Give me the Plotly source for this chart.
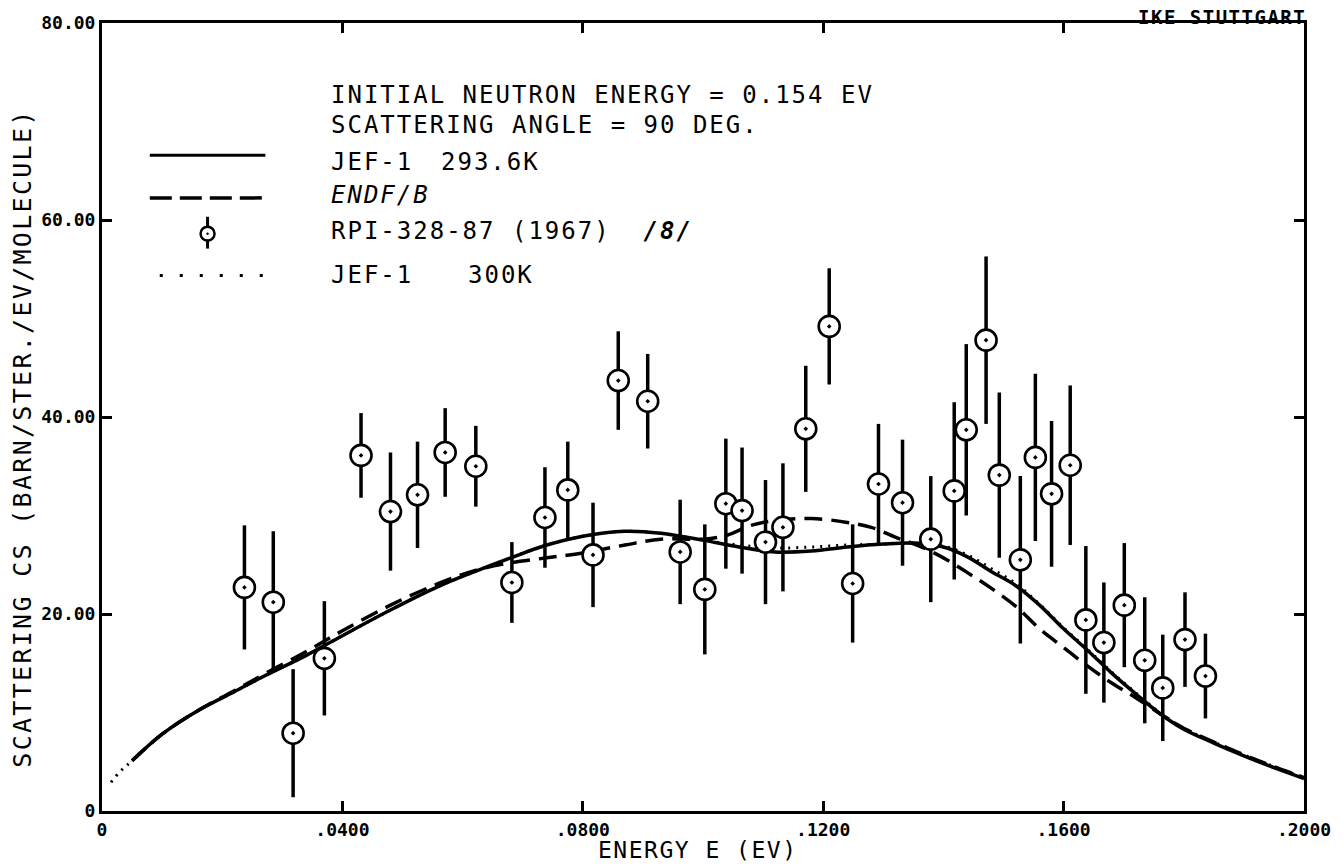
import plotly.graph_objects as go

# Measured double-differential scattering cross section (RPI-328-87, 1967)
E_exp = [0.0237, 0.0285, 0.0318, 0.0370, 0.0431, 0.0480, 0.0525, 0.0571, 0.0622,
         0.0682, 0.0737, 0.0775, 0.0817, 0.0859, 0.0908, 0.0962, 0.1003, 0.1038,
         0.1065, 0.1104, 0.1133, 0.1171, 0.1210, 0.1249, 0.1292, 0.1332, 0.1379,
         0.1418, 0.1438, 0.1471, 0.1493, 0.1528, 0.1553, 0.1580, 0.1611, 0.1637,
         0.1667, 0.1701, 0.1735, 0.1765, 0.1802, 0.1836]
cs_exp = [22.7, 21.2, 7.9, 15.5, 36.1, 30.4, 32.1, 36.4, 35.0,
          23.2, 29.8, 32.6, 26.0, 43.7, 41.6, 26.3, 22.5, 31.2,
          30.5, 27.3, 28.8, 38.8, 49.2, 23.1, 33.2, 31.3, 27.6,
          32.5, 38.7, 47.8, 34.1, 25.5, 35.9, 32.2, 35.1, 19.4,
          17.1, 20.9, 15.3, 12.5, 17.4, 13.7]
cs_err = [6.3, 7.2, 6.5, 5.8, 4.3, 6.0, 5.4, 4.5, 4.1,
          4.1, 5.1, 4.9, 5.3, 5.0, 4.8, 5.3, 6.6, 6.6,
          6.4, 6.3, 6.5, 6.4, 5.9, 6.0, 6.1, 6.4, 6.4,
          9.0, 8.7, 8.5, 8.4, 8.5, 8.5, 7.4, 8.1, 7.5,
          6.1, 6.3, 6.4, 5.4, 4.8, 4.3]

# JEF-1 evaluation at 293.6 K
E_jef = [0.005, 0.010, 0.016, 0.022, 0.027, 0.034, 0.040, 0.048, 0.056, 0.062,
         0.068, 0.074, 0.080, 0.087, 0.093, 0.100, 0.106, 0.112, 0.118, 0.124,
         0.130, 0.135, 0.140, 0.144, 0.148, 0.152, 0.156, 0.160, 0.164, 0.168,
         0.172, 0.176, 0.180, 0.185, 0.190, 0.195, 0.200]
cs_jef = [5.1, 7.8, 10.2, 12.1, 13.7, 15.8, 17.8, 20.4, 22.8, 24.3,
          25.7, 27.0, 27.9, 28.4, 28.2, 27.5, 26.8, 26.3, 26.4, 26.8,
          27.1, 27.2, 26.8, 25.8, 24.3, 22.9, 20.9, 18.5, 16.3, 14.0,
          11.9, 9.9, 8.3, 6.9, 5.6, 4.4, 3.3]

# ENDF/B evaluation
E_endf = [0.005, 0.010, 0.016, 0.022, 0.027, 0.034, 0.040, 0.048, 0.056, 0.062,
          0.068, 0.074, 0.080, 0.087, 0.093, 0.100, 0.104, 0.108, 0.112, 0.118,
          0.124, 0.128, 0.132, 0.136, 0.140, 0.144, 0.148, 0.152, 0.156, 0.160,
          0.164, 0.168, 0.172, 0.176, 0.180, 0.185, 0.190, 0.195, 0.200]
cs_endf = [5.1, 7.8, 10.2, 12.2, 13.9, 16.2, 18.3, 20.9, 23.1, 24.4,
           25.2, 25.7, 26.2, 27.0, 27.6, 27.6, 28.0, 29.0, 29.5, 29.7,
           29.3, 28.8, 27.8, 26.9, 25.7, 24.2, 22.6, 20.8, 18.5, 16.6,
           14.7, 13.0, 11.5, 9.9, 8.4, 7.0, 5.7, 4.5, 3.4]

# JEF-1 evaluation at 300 K
E_jef300 = [0.0015, 0.003, 0.005, 0.010, 0.016, 0.022, 0.027, 0.034, 0.040, 0.048,
            0.056, 0.062, 0.068, 0.074, 0.080, 0.087, 0.093, 0.100, 0.106, 0.112,
            0.118, 0.124, 0.130, 0.135, 0.140, 0.144, 0.148, 0.152, 0.156, 0.160,
            0.164, 0.168, 0.172, 0.176, 0.180, 0.185, 0.190, 0.195, 0.200]
cs_jef300 = [2.9, 4.0, 5.1, 7.8, 10.2, 12.1, 13.7, 15.8, 17.8, 20.4,
             22.8, 24.3, 25.7, 27.0, 27.9, 28.4, 28.2, 27.5, 27.0, 26.7,
             26.8, 27.0, 27.1, 27.2, 26.9, 26.0, 24.6, 23.1, 21.0, 18.6,
             16.4, 14.1, 12.0, 10.0, 8.4, 7.0, 5.7, 4.5, 3.4]

x_ticks = [0, 0.04, 0.08, 0.12, 0.16, 0.20]
x_ticktext = ["0", ".0400", ".0800", ".1200", ".1600", ".2000"]
y_ticks = [0, 20, 40, 60, 80]
y_ticktext = ["0", "20.00", "40.00", "60.00", "80.00"]

FONT = "DejaVu Sans Mono"
W, H = 1343, 866
L, R, T, B = 102, 1309, 18, 811   # plot-area edges in pixels


def px_x(p):
    return (p - L) / (R - L)


def px_y(p):
    return (B - p) / (B - T)


def spaced(text, px):
    return f'<span style="letter-spacing:{px}px">{text}</span>'


fig = go.Figure()

fig.add_trace(go.Scatter(
    x=E_jef300, y=cs_jef300, mode="lines", line_shape="spline",
    line=dict(color="black", width=3, dash="2px,6px"), showlegend=False))
fig.add_trace(go.Scatter(
    x=E_endf, y=cs_endf, mode="lines", line_shape="spline",
    line=dict(color="black", width=3.5, dash="18px,9px"), showlegend=False))
fig.add_trace(go.Scatter(
    x=E_jef, y=cs_jef, mode="lines", line_shape="spline",
    line=dict(color="black", width=3.5), showlegend=False))
fig.add_trace(go.Scatter(
    x=E_exp, y=cs_exp, mode="markers",
    marker=dict(symbol="circle-dot", size=21, color="white",
                line=dict(color="black", width=2.6)),
    error_y=dict(type="data", array=cs_err, visible=True,
                 color="black", thickness=3.5, width=0),
    showlegend=False))

# Key drawn at the upper left of the frame
shapes = [
    dict(type="line", xref="paper", yref="paper",
         x0=px_x(150), x1=px_x(266), y0=px_y(151), y1=px_y(151),
         line=dict(color="black", width=3)),
    dict(type="line", xref="paper", yref="paper",
         x0=px_x(150), x1=px_x(266), y0=px_y(194), y1=px_y(194),
         line=dict(color="black", width=3.5, dash="22px,8px")),
    dict(type="line", xref="paper", yref="paper",
         x0=px_x(208), x1=px_x(208), y0=px_y(213), y1=px_y(245),
         line=dict(color="black", width=3)),
    dict(type="circle", xref="paper", yref="paper",
         x0=px_x(201), x1=px_x(215), y0=px_y(223), y1=px_y(237),
         fillcolor="white", line=dict(color="black", width=2.5)),
    dict(type="circle", xref="paper", yref="paper",
         x0=px_x(207), x1=px_x(209), y0=px_y(229), y1=px_y(231),
         fillcolor="black", line=dict(color="black", width=0.5)),
    dict(type="line", xref="paper", yref="paper",
         x0=px_x(160), x1=px_x(264), y0=px_y(272), y1=px_y(272),
         line=dict(color="black", width=3, dash="3px,17px")),
]


def label(text, x, y, size=24, xanchor="left", **kw):
    return dict(text=text, xref="paper", yref="paper", x=px_x(x), y=px_y(y),
                xanchor=xanchor, yanchor="middle", showarrow=False,
                font=dict(family=FONT, size=size, color="black"), **kw)


LS = 2.0   # extra letter spacing of the key text
annotations = [
    label(spaced("INITIAL NEUTRON ENERGY = 0.154 EV", LS), 330, 90),
    label(spaced("SCATTERING ANGLE = 90 DEG.", LS), 330, 121),
    label(spaced("JEF-1", LS), 330, 158),
    label(spaced("293.6K", LS), 440, 158),
    label(spaced("<i>ENDF/B</i>", LS), 330, 191),
    label(spaced("RPI-328-87 (1967)  <b><i>/8/</i></b>", LS), 330, 227),
    label(spaced("JEF-1", LS), 330, 272),
    label(spaced("300K", LS), 468, 272),
    label(spaced("IKE STUTTGART", 1.5), 1313, 12, size=19, xanchor="right"),
    label(spaced("ENERGY E (EV)", 1.5), 700, 850, size=23, xanchor="center"),
    label(spaced("SCATTERING CS (BARN/STER./EV/MOLECULE)", 2.3), 22, 436, size=25,
          xanchor="center", textangle=-90),
]
annotations[8]["font"]["weight"] = "bold"

axis_common = dict(
    showgrid=False, zeroline=False, showline=True, linecolor="black",
    linewidth=3, mirror="ticks", ticks="inside", ticklen=10, tickwidth=3,
    tickcolor="black",
    tickfont=dict(family=FONT, size=18, color="black", weight="bold"),
)

fig.update_layout(
    width=W, height=H,
    margin=dict(l=L, r=W - R, t=T, b=H - B),
    paper_bgcolor="white", plot_bgcolor="white",
    xaxis=dict(range=[0, 0.2], tickvals=x_ticks, ticktext=x_ticktext,
               **axis_common),
    yaxis=dict(range=[0, 80], tickvals=y_ticks, ticktext=y_ticktext,
               **axis_common),
    shapes=shapes,
    annotations=annotations,
    showlegend=False,
)

fig.write_html("out.html")
